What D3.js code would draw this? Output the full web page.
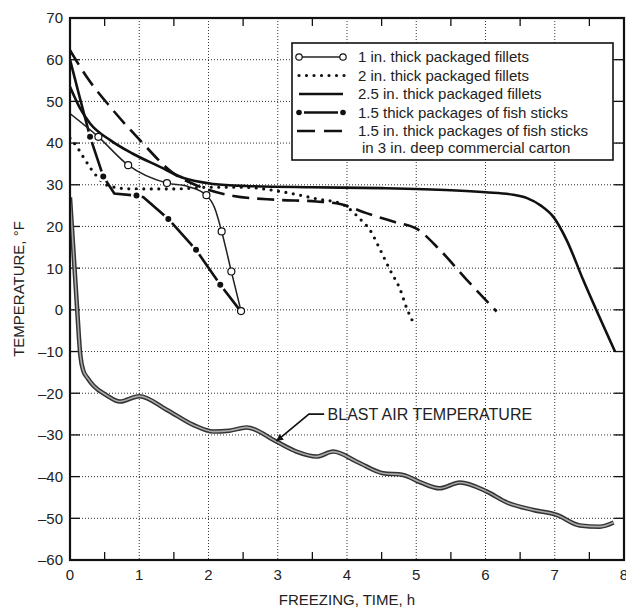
<!doctype html>
<html lang="en">
<head>
  <meta charset="utf-8" />
  <title>Freezing time curves</title>
  <script src="https://d3js.org/d3.v7.min.js"></script>
  <style>
    body { margin: 0; background: #fff; }
    svg text { font-family: "Liberation Sans", Arial, sans-serif; fill: #222; }
  </style>
</head>
<body>
<div id="chart"></div>
<script>
  // ---- data ----
  const xTicks = [0, 1, 2, 3, 4, 5, 6, 7, 8];
  const yTicks = [-60, -50, -40, -30, -20, -10, 0, 10, 20, 30, 40, 50, 60, 70];

  const fillet1Time = [0, 0.41, 0.84, 1.4, 1.7, 1.97, 2.09, 2.19, 2.33, 2.47];
  const fillet1Temp = [47.1, 41.5, 34.7, 30.4, 29.6, 27.5, 24.4, 18.8, 9.2, -0.3];
  const fillet1Marks = [1, 2, 3, 5, 7, 8, 9];

  const fillet2Time = [0, 0.1, 0.19, 0.39, 0.58, 0.9, 1.5, 2.0, 2.5, 3.0, 3.35, 3.6, 3.9, 4.05, 4.2, 4.33, 4.48, 4.62, 4.77, 4.86, 4.95];
  const fillet2Temp = [41.2, 39.1, 36.7, 32, 29.6, 29, 29, 29.4, 29.4, 28.5, 27.4, 26.5, 25.6, 24, 21.6, 19.2, 14.4, 9.6, 4.8, 0.5, -2.8];

  const fillet25Time = [0, 0.14, 0.29, 0.58, 0.9, 1.3, 1.64, 2.07, 2.55, 3.5, 4.5, 5.5, 6.0, 6.4, 6.6, 6.8, 6.98, 7.17, 7.41, 7.87];
  const fillet25Temp = [53.5, 48.5, 44.7, 40.7, 37.5, 34.3, 31.6, 30.2, 29.7, 29.4, 29.2, 28.7, 28.2, 27.6, 26.8, 25, 22.3, 16.8, 7.2, -10];

  const sticksTime = [0, 0.14, 0.29, 0.48, 0.64, 0.96, 1.06, 1.42, 1.82, 2.17, 2.45];
  const sticksTemp = [60, 51, 41.5, 32, 27.9, 27.4, 27, 21.8, 14.4, 6, 0];
  const sticksMarks = [2, 3, 5, 7, 8, 9];

  const cartonTime = [0, 0.24, 0.58, 1.01, 1.49, 1.88, 2.36, 2.98, 3.56, 3.9, 4.28, 4.7, 5.01, 5.34, 5.73, 6.16];
  const cartonTemp = [62.3, 55.9, 48.7, 40.7, 32.8, 29.5, 27.3, 26.4, 26, 25.4, 23.2, 21, 19.4, 14.4, 7.2, -0.4];

  const blastTime = [0, 0.05, 0.1, 0.15, 0.19, 0.26, 0.34, 0.53, 0.72, 1.0, 1.4, 1.78, 2.07, 2.3, 2.55, 2.98, 3.27, 3.56, 3.8, 4.15, 4.52, 4.81, 5.05, 5.34, 5.63, 6.02, 6.31, 6.69, 7.03, 7.36, 7.65, 7.85];
  const blastTemp = [27, 14, 1, -11, -14.5, -16.5, -18.2, -20.5, -22, -20.7, -24, -27.6, -29.2, -29, -28.2, -31.6, -34, -35.2, -34, -36.5, -39.2, -39.6, -41.3, -42.8, -41.4, -43.6, -46.2, -48, -49.2, -51.7, -52, -51];

  const legendLabels = [
    "1 in. thick packaged fillets",
    "2 in. thick packaged fillets",
    "2.5 in. thick packaged fillets",
    "1.5 thick packages of fish sticks",
    "1.5 in. thick packages of fish sticks"
  ];

  // ---- layout ----
  const width = 626, height = 611;
  const margin = { top: 18, right: 2, bottom: 51, left: 70 };

  const svg = d3.select("#chart").append("svg")
    .attr("width", width)
    .attr("height", height);

  const x = d3.scaleLinear().domain([0, 8]).range([margin.left, width - margin.right]);
  const y = d3.scaleLinear().domain([-60, 70]).range([height - margin.bottom, margin.top]);

  const zip = (t, v) => t.map((d, i) => [d, v[i]]);

  // grid
  svg.append("g")
    .selectAll("line")
    .data(xTicks.slice(1, -1))
    .join("line")
    .attr("x1", d => x(d)).attr("x2", d => x(d))
    .attr("y1", y(70)).attr("y2", y(-60))
    .attr("stroke", "#333").attr("stroke-width", 1).attr("stroke-dasharray", "1,2");

  svg.append("g")
    .selectAll("line")
    .data(yTicks.slice(1, -1))
    .join("line")
    .attr("x1", x(0)).attr("x2", x(8))
    .attr("y1", d => y(d)).attr("y2", d => y(d))
    .attr("stroke", "#333").attr("stroke-width", 1).attr("stroke-dasharray", "1,2");

  // inward ticks
  const halfTicks = d3.range(0.5, 8, 1);
  const tickG = svg.append("g").attr("stroke", "#111").attr("stroke-width", 1.3);
  tickG.selectAll(".tb")
    .data(halfTicks)
    .join("line")
    .attr("x1", d => x(d)).attr("x2", d => x(d))
    .attr("y1", y(-60)).attr("y2", y(-60) - 8);
  tickG.selectAll(".tt")
    .data(halfTicks)
    .join("line")
    .attr("x1", d => x(d)).attr("x2", d => x(d))
    .attr("y1", y(70)).attr("y2", y(70) + 8);
  tickG.selectAll(".tr")
    .data(yTicks.slice(1, -1))
    .join("line")
    .attr("x1", x(8)).attr("x2", x(8) - 10)
    .attr("y1", d => y(d)).attr("y2", d => y(d));
  tickG.selectAll(".tl")
    .data(yTicks.slice(1, -1))
    .join("line")
    .attr("x1", x(0)).attr("x2", x(0) + 10)
    .attr("y1", d => y(d)).attr("y2", d => y(d));

  // tick labels
  svg.append("g")
    .selectAll("text")
    .data(yTicks)
    .join("text")
    .attr("x", x(0) - 7)
    .attr("y", d => y(d))
    .attr("dy", "0.36em")
    .attr("text-anchor", "end")
    .style("font-size", "15px")
    .text(d => d < 0 ? "\u2013" + Math.abs(d) : d);

  // the last label sits on the page edge, as in the original
  svg.append("g")
    .selectAll("text")
    .data(xTicks)
    .join("text")
    .attr("x", d => x(d))
    .attr("y", y(-60) + 20)
    .attr("text-anchor", "middle")
    .style("font-size", "15px")
    .text(d => d);

  // axis titles
  svg.append("text")
    .attr("x", (x(0) + x(8)) / 2)
    .attr("y", 605)
    .attr("text-anchor", "middle")
    .style("font-size", "15px")
    .text("FREEZING, TIME, h");

  svg.append("text")
    .attr("transform", `translate(24, ${(y(70) + y(-60)) / 2}) rotate(-90)`)
    .attr("text-anchor", "middle")
    .style("font-size", "15px")
    .text("TEMPERATURE, \u00B0F");

  // ---- series ----
  svg.append("clipPath").attr("id", "plotclip")
    .append("rect")
    .attr("x", x(0)).attr("y", y(70))
    .attr("width", x(8) - x(0)).attr("height", y(-60) - y(70));

  const plot = svg.append("g").attr("clip-path", "url(#plotclip)");

  const smooth = d3.line().x(d => x(d[0])).y(d => y(d[1])).curve(d3.curveMonotoneX);
  const straight = d3.line().x(d => x(d[0])).y(d => y(d[1]));

  // blast air: double line
  plot.append("path")
    .attr("d", smooth(zip(blastTime, blastTemp)))
    .attr("fill", "none").attr("stroke", "#333").attr("stroke-width", 4.5);
  plot.append("path")
    .attr("d", smooth(zip(blastTime, blastTemp)))
    .attr("fill", "none").attr("stroke", "#aaa").attr("stroke-width", 1.6);

  // 1.5 in. in carton (dashed)
  plot.append("path")
    .attr("d", smooth(zip(cartonTime, cartonTemp)))
    .attr("fill", "none").attr("stroke", "#111").attr("stroke-width", 2.6)
    .attr("stroke-dasharray", "17,8");

  // 2.5 in. (solid)
  plot.append("path")
    .attr("d", smooth(zip(fillet25Time, fillet25Temp)))
    .attr("fill", "none").attr("stroke", "#111").attr("stroke-width", 2.6);

  // 2 in. (dotted)
  plot.append("path")
    .attr("d", smooth(zip(fillet2Time, fillet2Temp)))
    .attr("fill", "none").attr("stroke", "#111").attr("stroke-width", 3.2)
    .attr("stroke-linecap", "round").attr("stroke-dasharray", "0,7.5");

  // fish sticks (dash with dots)
  const sticks = zip(sticksTime, sticksTemp);
  plot.append("path")
    .attr("d", straight(sticks))
    .attr("fill", "none").attr("stroke", "#111").attr("stroke-width", 2.6);
  plot.selectAll(".stickgap")
    .data(sticksMarks.map(i => sticks[i]))
    .join("circle")
    .attr("cx", d => x(d[0])).attr("cy", d => y(d[1]))
    .attr("r", 5.5).attr("fill", "#fff");
  plot.selectAll(".stickdot")
    .data(sticksMarks.map(i => sticks[i]))
    .join("circle")
    .attr("cx", d => x(d[0])).attr("cy", d => y(d[1]))
    .attr("r", 3).attr("fill", "#111");

  // 1 in. (thin line, open circles)
  const f1 = zip(fillet1Time, fillet1Temp);
  plot.append("path")
    .attr("d", smooth(f1))
    .attr("fill", "none").attr("stroke", "#222").attr("stroke-width", 1.5);
  plot.selectAll(".f1dot")
    .data(fillet1Marks.map(i => f1[i]))
    .join("circle")
    .attr("cx", d => x(d[0])).attr("cy", d => y(d[1]))
    .attr("r", 3.5).attr("fill", "#fff").attr("stroke", "#111").attr("stroke-width", 1.2);

  // frame
  svg.append("rect")
    .attr("x", x(0)).attr("y", y(70))
    .attr("width", x(8) - x(0)).attr("height", y(-60) - y(70))
    .attr("fill", "none").attr("stroke", "#111").attr("stroke-width", 2.2);

  // ---- annotation ----
  svg.append("defs").append("marker")
    .attr("id", "arrow")
    .attr("viewBox", "0 0 10 10")
    .attr("refX", 10).attr("refY", 5)
    .attr("markerWidth", 7).attr("markerHeight", 7)
    .attr("markerUnits", "userSpaceOnUse")
    .attr("orient", "auto")
    .append("path")
    .attr("d", "M0,0 L10,5 L0,10 z")
    .attr("fill", "#111");

  svg.append("path")
    .attr("d", straight([[3.67, -25], [3.45, -25], [2.98, -31.5]]))
    .attr("fill", "none").attr("stroke", "#111").attr("stroke-width", 1.6)
    .attr("marker-end", "url(#arrow)");

  svg.append("text")
    .attr("x", x(3.72))
    .attr("y", y(-25))
    .attr("dy", "0.36em")
    .style("font-size", "16px")
    .text("BLAST AIR TEMPERATURE");

  // ---- legend ----
  const legend = svg.append("g");
  legend.append("rect")
    .attr("x", 292).attr("y", 43)
    .attr("width", 321).attr("height", 117)
    .attr("fill", "#fff").attr("stroke", "#111").attr("stroke-width", 1.6);

  const rowY = d3.scalePoint().domain(legendLabels).range([57, 131]);
  const sx0 = 299, sx1 = 343;

  legend.selectAll(".ltext")
    .data(legendLabels)
    .join("text")
    .attr("x", 358)
    .attr("y", d => rowY(d))
    .attr("dy", "0.36em")
    .style("font-size", "15px")
    .text(d => d);
  legend.append("text")
    .attr("x", 362)
    .attr("y", 147.5)
    .attr("dy", "0.36em")
    .style("font-size", "15px")
    .text("in 3 in. deep commercial carton");

  // row 1: open circles
  let ly = rowY(legendLabels[0]);
  legend.append("line").attr("x1", sx0).attr("x2", sx1).attr("y1", ly).attr("y2", ly)
    .attr("stroke", "#222").attr("stroke-width", 1.5);
  legend.selectAll(".lc").data([sx0, sx1]).join("circle")
    .attr("cx", d => d).attr("cy", ly).attr("r", 3.2)
    .attr("fill", "#fff").attr("stroke", "#111").attr("stroke-width", 1.2);

  // row 2: dotted
  ly = rowY(legendLabels[1]);
  legend.append("line").attr("x1", sx0).attr("x2", sx1 + 2).attr("y1", ly).attr("y2", ly)
    .attr("stroke", "#111").attr("stroke-width", 3.2)
    .attr("stroke-linecap", "round").attr("stroke-dasharray", "0,7.5");

  // row 3: solid
  ly = rowY(legendLabels[2]);
  legend.append("line").attr("x1", sx0).attr("x2", sx1).attr("y1", ly).attr("y2", ly)
    .attr("stroke", "#111").attr("stroke-width", 2.6);

  // row 4: dot - line - dot
  ly = rowY(legendLabels[3]);
  legend.append("line").attr("x1", sx0 + 5).attr("x2", sx1 - 5).attr("y1", ly).attr("y2", ly)
    .attr("stroke", "#111").attr("stroke-width", 2.6);
  legend.selectAll(".ld").data([sx0, sx1]).join("circle")
    .attr("cx", d => d).attr("cy", ly).attr("r", 2.8).attr("fill", "#111");

  // row 5: dashed
  ly = rowY(legendLabels[4]);
  legend.append("line").attr("x1", sx0 - 2).attr("x2", sx1 + 1).attr("y1", ly).attr("y2", ly)
    .attr("stroke", "#111").attr("stroke-width", 2.6).attr("stroke-dasharray", "18,9");
</script>
</body>
</html>
